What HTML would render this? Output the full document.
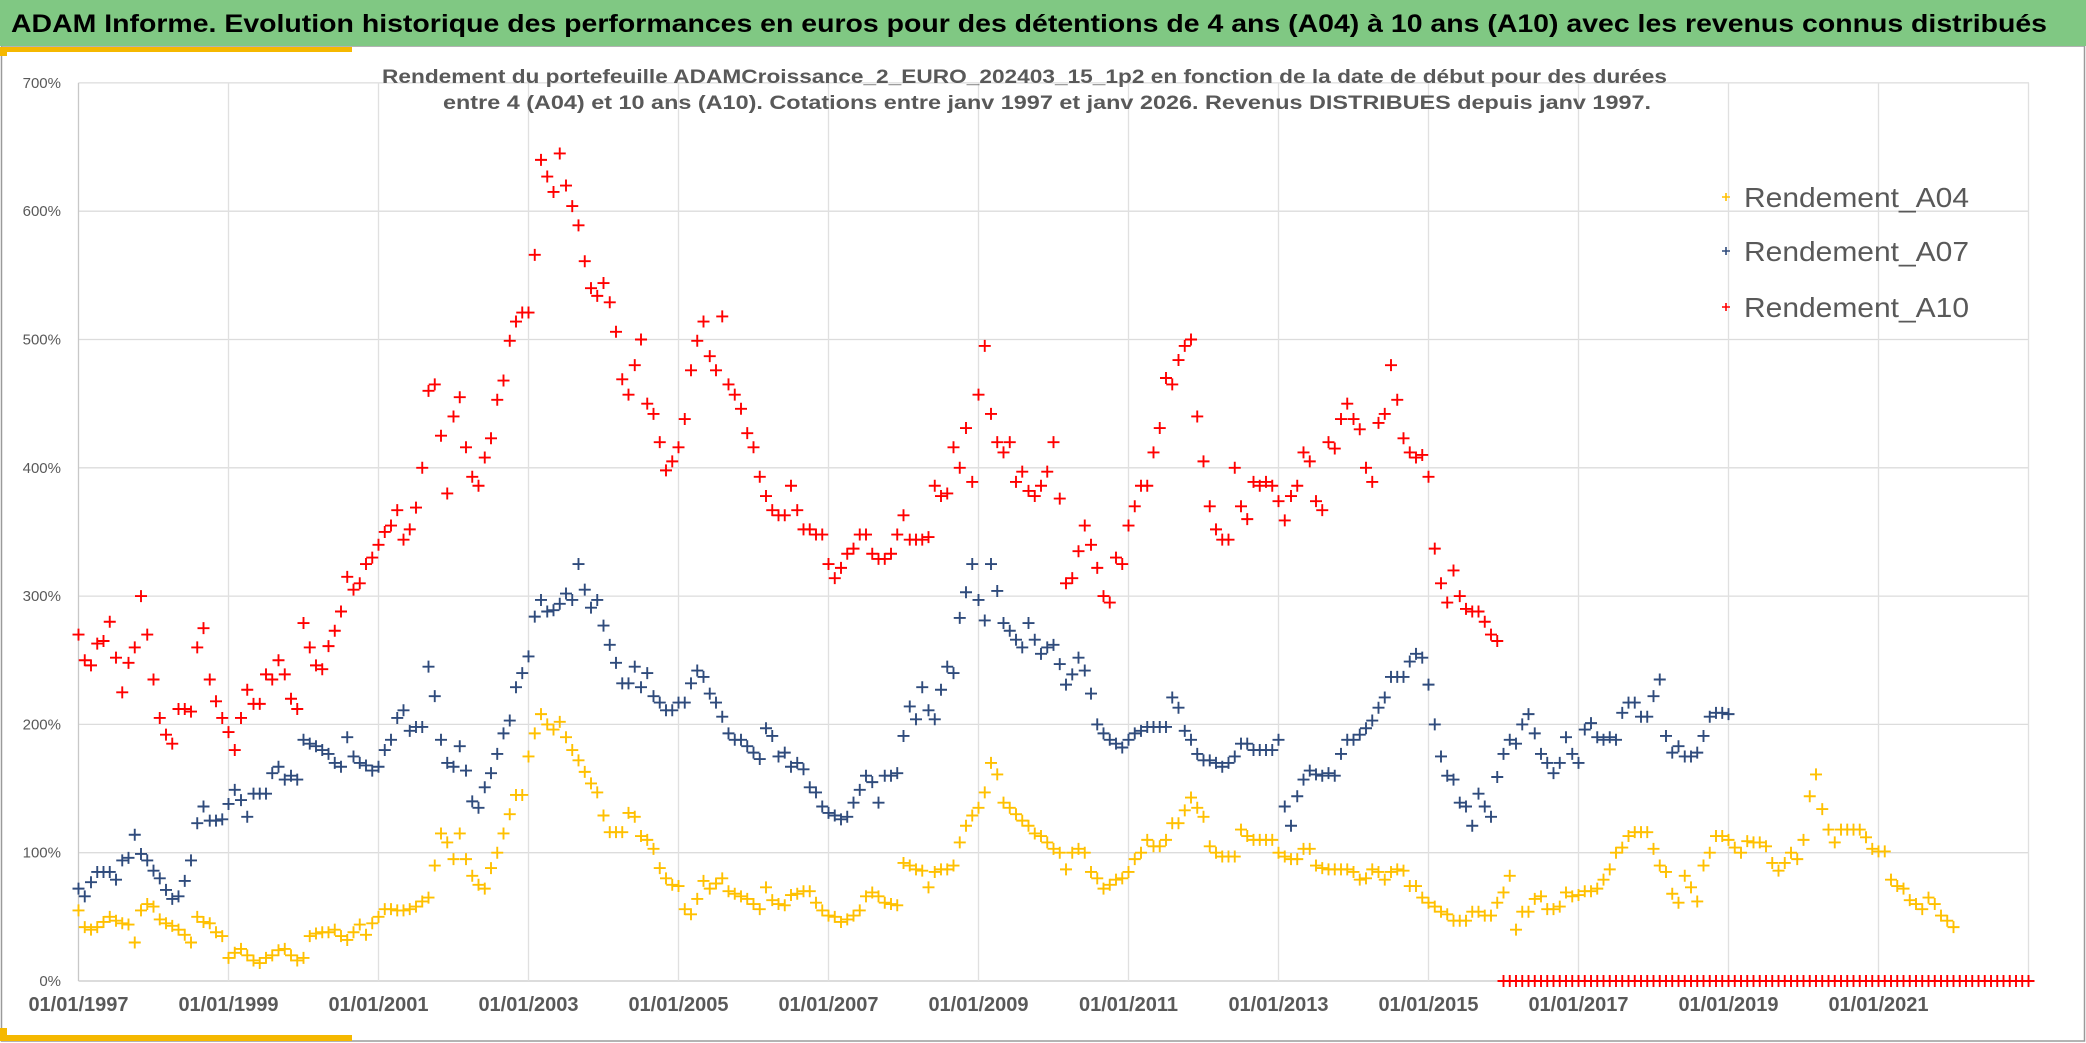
<!DOCTYPE html>
<html><head><meta charset="utf-8">
<style>
html,body{margin:0;padding:0;background:#fff;}
svg{display:block;font-family:"Liberation Sans",sans-serif;}
</style></head>
<body>
<svg id="chart" width="2086" height="1043" viewBox="0 0 2086 1043" xmlns="http://www.w3.org/2000/svg">
  <rect x="0" y="0" width="2086" height="1043" fill="#fff"/>
  <rect x="1.5" y="46" width="2083" height="995" fill="none" stroke="#9a9a9a" stroke-width="1.5"/>
  <rect x="0" y="0" width="2086" height="46" fill="#80c883"/>
  <text x="11" y="32" font-size="25" font-weight="bold" fill="#000" textLength="2036" lengthAdjust="spacingAndGlyphs">ADAM Informe. Evolution historique des performances en euros pour des détentions de 4 ans (A04) à 10 ans (A10) avec les revenus connus distribués</text>
  <rect x="0" y="47" width="352" height="5" fill="#f5b800"/>
  <rect x="0" y="47" width="7" height="9" fill="#f5b800"/>
  <rect x="0" y="1035" width="352" height="6" fill="#f5b800"/>
  <rect x="0" y="1028" width="7" height="13" fill="#f5b800"/>
  <g id="grid"></g>
  <g id="yaxis"></g>
  <g id="xaxis"></g>
  <text x="382" y="83" font-size="19" font-weight="bold" fill="#595959" textLength="1285" lengthAdjust="spacingAndGlyphs">Rendement du portefeuille ADAMCroissance_2_EURO_202403_15_1p2  en fonction de la date de début pour des durées</text>
  <text x="443" y="109" font-size="19" font-weight="bold" fill="#595959" textLength="1208" lengthAdjust="spacingAndGlyphs">entre 4 (A04) et 10 ans (A10). Cotations entre janv 1997 et janv 2026. Revenus DISTRIBUES depuis janv 1997.</text>
  <g id="series"></g>
  <g id="legend"></g>
</svg>
<script>
// ---- data (monthly values in %, starting Jan 1997) ----
const startYear = 1997;
const yTicks = [0,100,200,300,400,500,600,700];
const xTickYears = [1997,1999,2001,2003,2005,2007,2009,2011,2013,2015,2017,2019,2021];
const gridYears = [1997,1999,2001,2003,2005,2007,2009,2011,2013,2015,2017,2019,2021,2023];
const seriesNames = ["Rendement_A04","Rendement_A07","Rendement_A10"];
const seriesColors = ["#ffc000","#2f4b7c","#ff0000"];

const a04 = [
55,42,40,42,46,50,47,45,44,30,55,60,
58,48,45,43,40,36,30,50,46,45,38,35,
18,22,25,20,16,14,18,20,24,25,20,16,
18,35,37,38,38,40,35,32,38,44,36,45,
50,56,56,55,55,56,58,62,65,90,115,108,
95,115,95,82,75,72,88,100,115,130,145,145,
175,193,208,200,196,202,190,180,172,163,154,147,
129,116,116,116,131,128,113,110,103,88,80,75,
74,56,52,64,78,72,76,80,70,68,66,64,
60,56,73,63,60,59,67,68,70,70,61,55,
51,50,46,48,51,55,66,69,66,61,60,59,
92,90,87,86,73,85,87,87,90,108,121,129,
135,147,170,161,139,135,130,125,121,115,113,108,
103,100,87,100,103,100,85,80,72,75,79,80,
85,95,100,110,105,105,110,123,123,133,143,135,
128,105,100,97,97,97,118,113,110,110,110,110,
100,97,95,95,103,103,90,88,87,87,87,87,
85,79,80,87,85,79,85,87,86,74,74,65,
61,58,54,52,47,47,47,54,54,51,51,61,
69,82,40,54,54,64,66,56,56,58,69,66,
67,70,70,72,79,87,100,104,113,116,116,116,
103,90,85,68,61,82,73,62,90,100,113,113,
110,104,100,109,108,108,105,92,86,92,100,95,
110,144,161,134,118,108,118,118,118,118,112,103,
101,101,79,74,72,63,60,56,65,60,51,47,
42];

const a07 = [
72,66,77,85,85,85,79,94,96,114,99,94,
86,80,71,64,66,78,94,123,136,125,125,126,
138,149,141,128,146,146,146,162,167,157,160,157,
188,185,183,180,177,170,167,190,175,170,168,164,
167,180,188,205,211,195,198,198,245,222,188,170,
167,183,164,140,135,151,162,177,193,203,229,240,
253,284,297,288,289,294,302,297,325,305,291,297,
277,262,248,232,232,245,229,240,222,217,211,211,
217,217,232,242,237,224,217,206,193,188,188,183,
178,173,197,191,175,178,167,170,165,151,147,136,
131,129,126,128,139,149,160,155,139,160,160,162,
191,214,204,229,211,204,227,245,240,283,303,325,
297,281,325,304,279,273,266,260,279,266,255,260,
262,247,231,239,252,242,224,200,193,188,185,182,
188,193,195,198,198,198,198,221,213,195,188,177,
172,172,170,167,170,175,185,185,180,180,180,180,
188,136,121,144,157,164,161,160,162,160,177,188,
188,192,197,203,213,221,237,237,237,249,255,252,
231,200,175,160,157,139,136,121,146,136,128,159,
177,188,185,200,208,193,177,170,162,170,190,177,
170,196,201,190,188,190,188,209,217,217,206,206,
222,235,191,178,183,175,175,178,191,206,209,209,
208];

const a10 = [
270,250,246,263,265,280,252,225,248,260,300,270,
235,205,192,185,212,212,210,260,275,235,218,205,
194,180,205,227,216,216,239,235,250,239,220,212,
279,260,246,243,261,273,288,315,305,310,325,330,
340,350,355,367,344,352,369,400,460,465,425,380,
440,455,416,393,386,408,423,453,468,499,514,521,
521,566,640,627,615,645,620,604,589,561,540,534,
544,529,506,469,457,480,500,450,442,420,398,405,
416,438,476,499,514,487,476,518,465,457,446,427,
416,393,378,367,363,363,386,367,352,352,348,348,
325,314,322,333,337,348,348,333,329,329,333,348,
363,344,344,344,346,386,378,380,416,400,431,389,
457,495,442,420,412,420,389,397,382,378,386,397,
420,376,310,314,335,355,340,322,300,295,330,325,
355,370,386,386,412,431,470,465,484,495,500,440,
405,370,352,344,344,400,370,360,389,386,389,386,
374,359,378,386,412,405,374,367,420,415,438,450,
438,430,400,389,435,442,480,453,423,412,408,410,
393,337,310,295,320,300,290,288,288,280,270,265,
0,0,0,0,0,0,0,0,0,0,0,0,
0,0,0,0,0,0,0,0,0,0,0,0,
0,0,0,0,0,0,0,0,0,0,0,0,
0,0,0,0,0,0,0,0,0,0,0,0,
0,0,0,0,0,0,0,0,0,0,0,0,
0,0,0,0,0,0,0,0,0,0,0,0,
0,0,0,0,0,0,0,0,0,0,0,0,
0];

// ---- axes ----
const NS = "http://www.w3.org/2000/svg";
const plotLeft = 78.5, plotRight = 2029, yearPx = 75;
const y0 = 981, pxPerPct = 1.283;
function xScale(yr){ return plotLeft + (yr - startYear) * yearPx; }
function yScale(v){ return y0 - v * pxPerPct; }
function mk(tag, attrs, parent){
  const el = document.createElementNS(NS, tag);
  for (const k in attrs) el.setAttribute(k, attrs[k]);
  parent.appendChild(el);
  return el;
}

const grid = document.getElementById('grid');
yTicks.forEach(v => {
  const l = mk('line', {x1: plotLeft, x2: plotRight, y1: yScale(v), y2: yScale(v), stroke: v === 0 ? '#c8c8c8' : '#dcdcdc', 'stroke-width': 1.3}, grid);
  
  
});
gridYears.forEach(yr => {
  const l = mk('line', {x1: xScale(yr), x2: xScale(yr), y1: yScale(700), y2: yScale(0), stroke: yr === startYear ? '#c8c8c8' : '#e0e0e0', 'stroke-width': 1.3}, grid);
  
  
});

const yaxis = document.getElementById('yaxis');
yTicks.forEach(v => {
  const t = mk('text', {x: 61, y: yScale(v) + 5, 'text-anchor': 'end', 'font-size': 15, fill: '#595959'}, yaxis);
  t.textContent = v + '%';
  
  
});

const xaxis = document.getElementById('xaxis');
xTickYears.forEach(yr => {
  const t = mk('text', {x: xScale(yr), y: 1011, 'text-anchor': 'middle', 'font-size': 20, 'font-weight': 'bold', fill: '#595959'}, xaxis);
  t.textContent = '01/01/' + yr;
  
  
});

// ---- series ----
function plus(cx, cy, s){ return 'M' + (cx - s) + ' ' + cy + 'H' + (cx + s) + 'M' + cx + ' ' + (cy - s) + 'V' + (cy + s); }
const seriesLayer = document.getElementById('series');
[a04, a07, a10].forEach((vals, si) => {
  const g = mk('g', {}, seriesLayer);
  
  
  vals.forEach((v, i) => {
    const yr = startYear + i / 12;
    const p = mk('path', {d: plus(xScale(yr), yScale(v), 6), stroke: seriesColors[si], 'stroke-width': 1.9, fill: 'none'}, g);
    
    
  });
});

// ---- legend ----
const legend = document.getElementById('legend');
const legendY = [197, 251, 307];
seriesNames.forEach((n, i) => {
  const m = mk('path', {d: plus(1726, legendY[i], 4), stroke: seriesColors[i], 'stroke-width': 1.6, fill: 'none'}, legend);
  
  
  const t = mk('text', {x: 1744, y: legendY[i] + 10, 'font-size': 28, fill: '#595959', textLength: 225, lengthAdjust: 'spacingAndGlyphs'}, legend);
  t.textContent = n;
  
  
});
</script>
</body></html>
